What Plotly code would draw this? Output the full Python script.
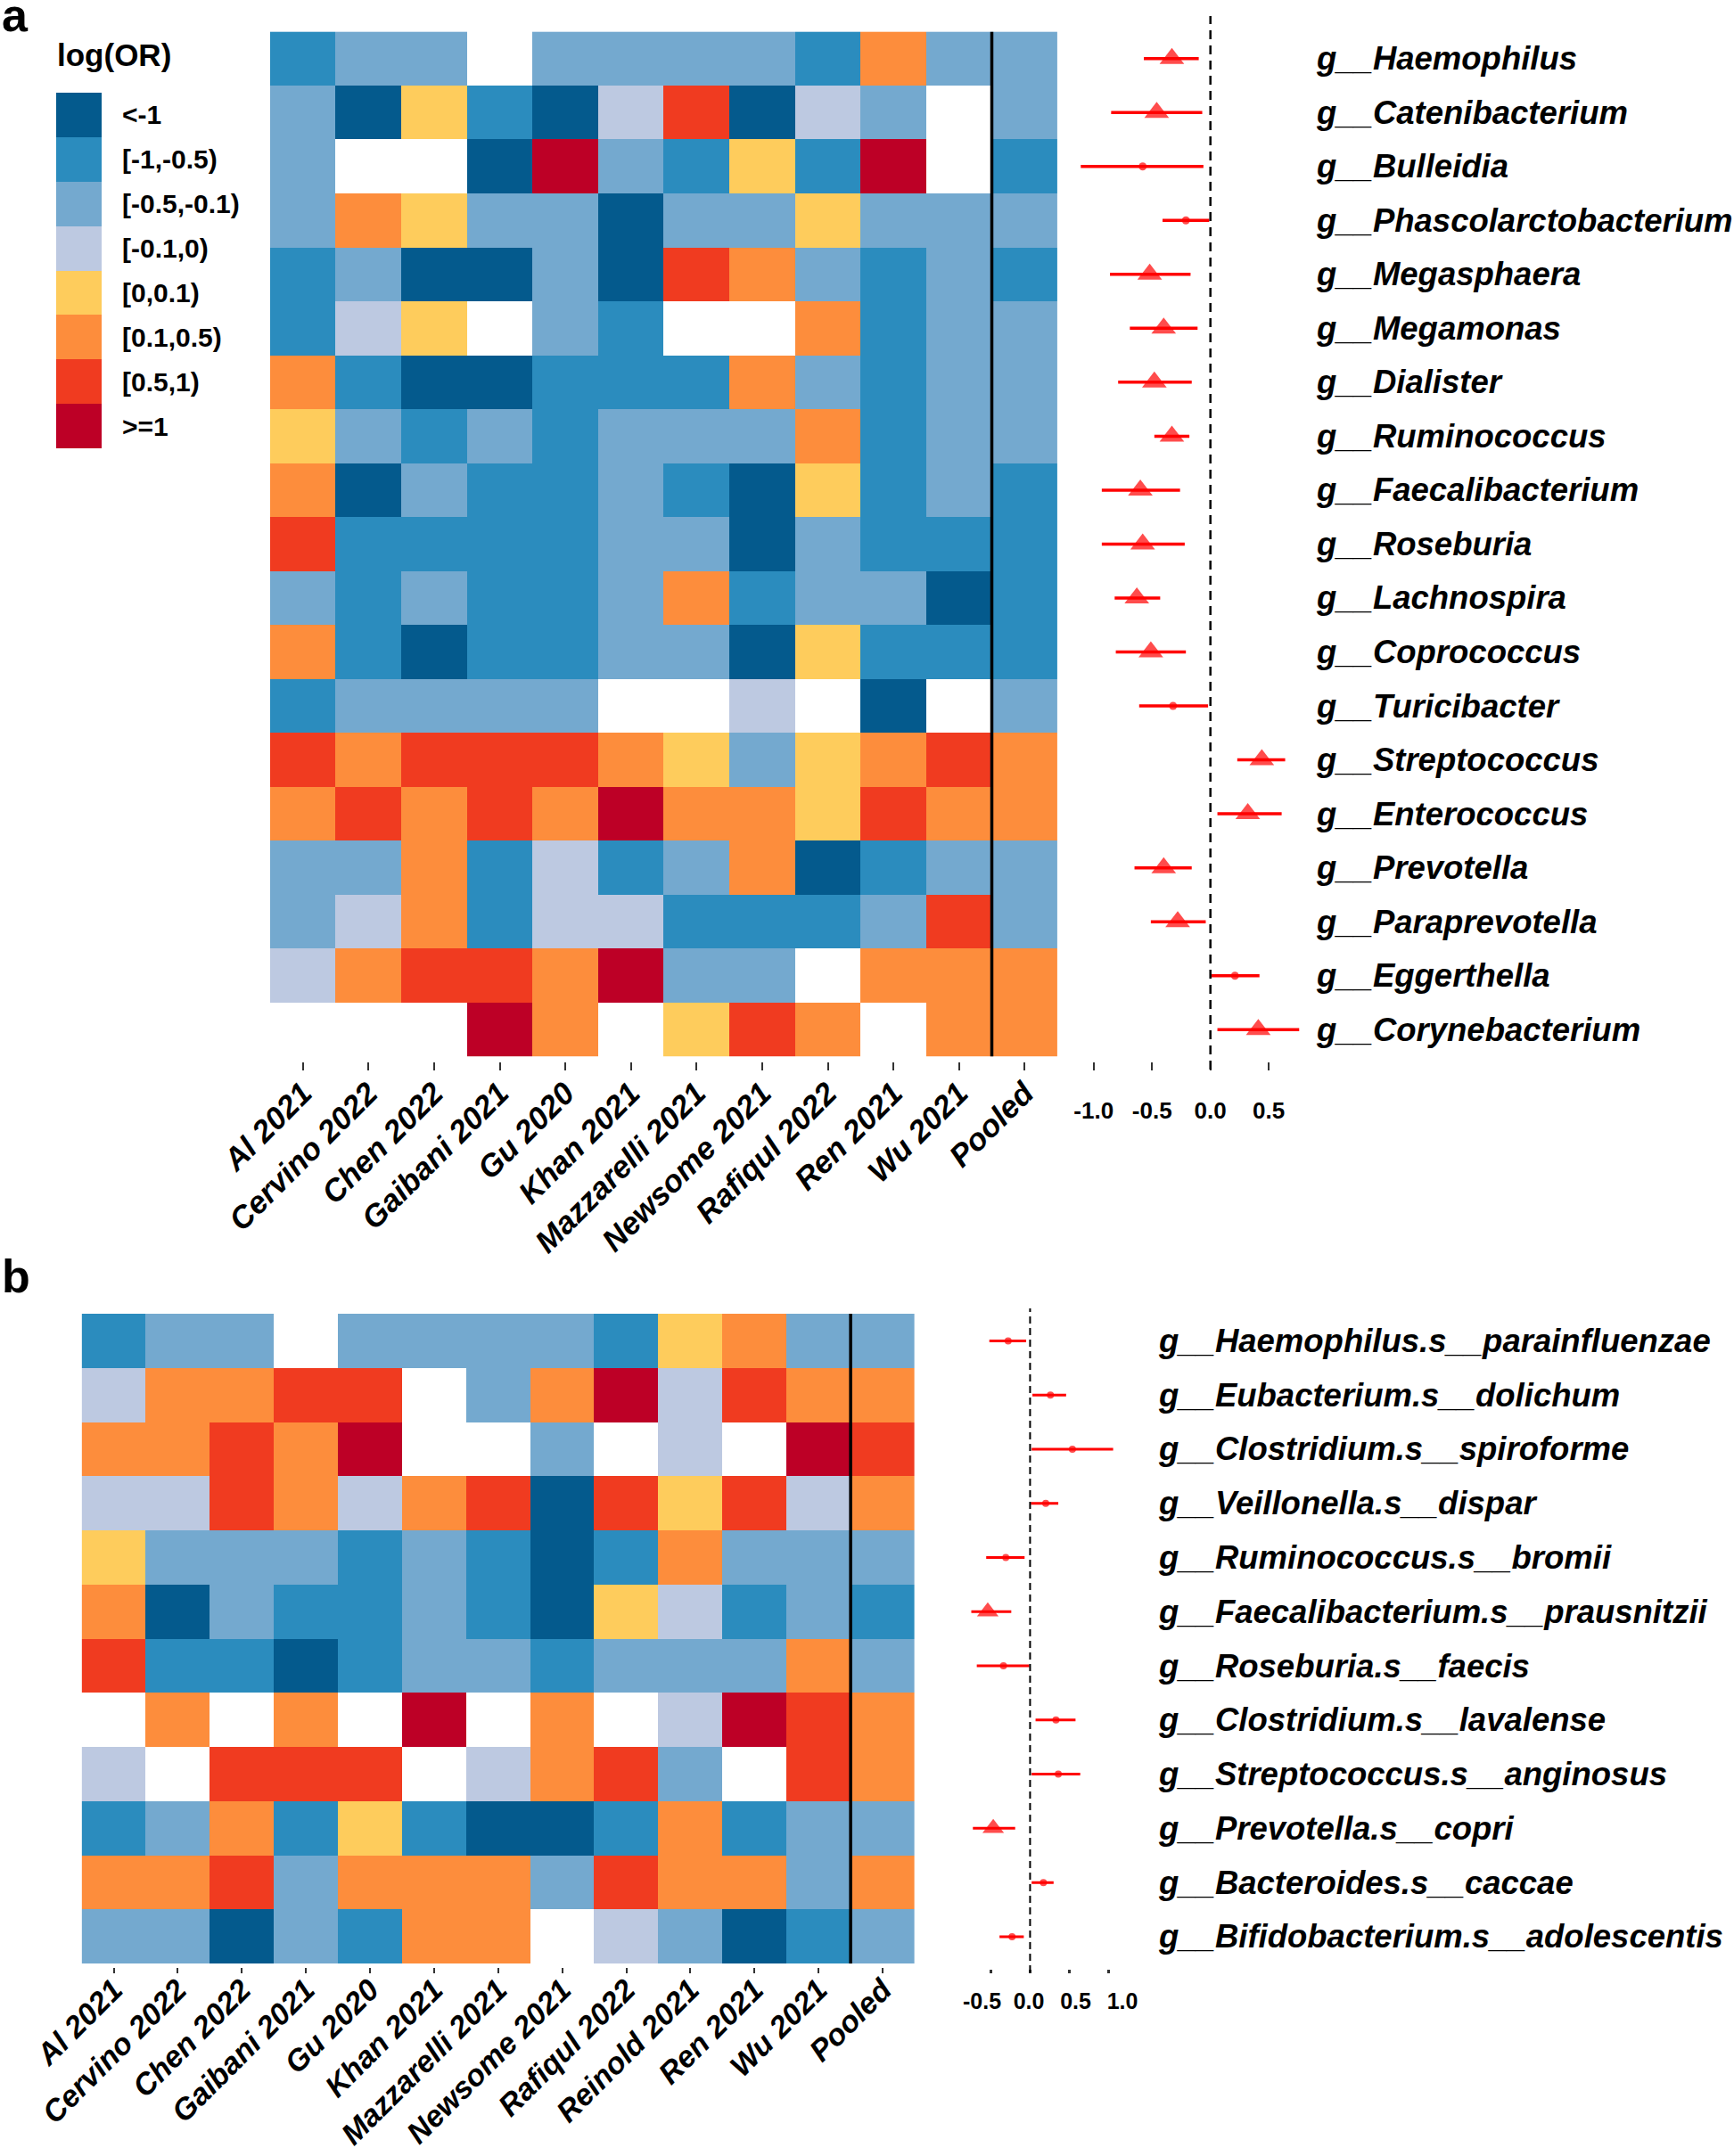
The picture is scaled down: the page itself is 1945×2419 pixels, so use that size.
import plotly.graph_objects as go

FONT = "Liberation Sans, Arial, Helvetica, sans-serif"
W, H = 1945, 2419

# ---------------- data ----------------
bin_labels = ["<-1", "[-1,-0.5)", "[-0.5,-0.1)", "[-0.1,0)", "[0,0.1)", "[0.1,0.5)", "[0.5,1)", ">=1"]
bin_colors = ["#045A8D", "#2B8CBE", "#74A9CF", "#BDC9E1", "#FECC5C", "#FD8D3C", "#F03B20", "#BD0026"]

studies_a = ["Al 2021", "Cervino 2022", "Chen 2022", "Gaibani 2021", "Gu 2020", "Khan 2021",
             "Mazzarelli 2021", "Newsome 2021", "Rafiqul 2022", "Ren 2021", "Wu 2021", "Pooled"]
genera_a = ["g__Haemophilus", "g__Catenibacterium", "g__Bulleidia", "g__Phascolarctobacterium",
            "g__Megasphaera", "g__Megamonas", "g__Dialister", "g__Ruminococcus", "g__Faecalibacterium",
            "g__Roseburia", "g__Lachnospira", "g__Coprococcus", "g__Turicibacter", "g__Streptococcus",
            "g__Enterococcus", "g__Prevotella", "g__Paraprevotella", "g__Eggerthella", "g__Corynebacterium"]
# log(OR) category index per cell (index into bin_labels), None = not available
cat_a = [
    [1, 2, 2, None, 2, 2, 2, 2, 1, 5, 2, 2],
    [2, 0, 4, 1, 0, 3, 6, 0, 3, 2, None, 2],
    [2, None, None, 0, 7, 2, 1, 4, 1, 7, None, 1],
    [2, 5, 4, 2, 2, 0, 2, 2, 4, 2, 2, 2],
    [1, 2, 0, 0, 2, 0, 6, 5, 2, 1, 2, 1],
    [1, 3, 4, None, 2, 1, None, None, 5, 1, 2, 2],
    [5, 1, 0, 0, 1, 1, 1, 5, 2, 1, 2, 2],
    [4, 2, 1, 2, 1, 2, 2, 2, 5, 1, 2, 2],
    [5, 0, 2, 1, 1, 2, 1, 0, 4, 1, 2, 1],
    [6, 1, 1, 1, 1, 2, 2, 0, 2, 1, 1, 1],
    [2, 1, 2, 1, 1, 2, 5, 1, 2, 2, 0, 1],
    [5, 1, 0, 1, 1, 2, 2, 0, 4, 1, 1, 1],
    [1, 2, 2, 2, 2, None, None, 3, None, 0, None, 2],
    [6, 5, 6, 6, 6, 5, 4, 2, 4, 5, 6, 5],
    [5, 6, 5, 6, 5, 7, 5, 5, 4, 6, 5, 5],
    [2, 2, 5, 1, 3, 1, 2, 5, 0, 1, 2, 2],
    [2, 3, 5, 1, 3, 3, 1, 1, 1, 2, 6, 2],
    [3, 5, 6, 6, 5, 7, 2, 2, None, 5, 5, 5],
    [None, None, None, 7, 5, None, 4, 6, 5, None, 5, 5],
]
pooled_a = [-0.33, -0.46, -0.58, -0.21, -0.52, -0.40, -0.48, -0.33, -0.60, -0.58,
            -0.63, -0.51, -0.32, 0.44, 0.32, -0.40, -0.28, 0.21, 0.41]
lower_a = [-0.57, -0.85, -1.11, -0.41, -0.86, -0.69, -0.79, -0.48, -0.93, -0.93,
           -0.82, -0.81, -0.61, 0.23, 0.06, -0.65, -0.51, 0.01, 0.06]
upper_a = [-0.10, -0.07, -0.06, -0.01, -0.17, -0.11, -0.16, -0.18, -0.26, -0.22,
           -0.43, -0.21, -0.02, 0.64, 0.61, -0.16, -0.04, 0.42, 0.76]
signif_a = [True, True, False, False, True, True, True, True, True, True,
            True, True, False, True, True, True, True, False, True]

studies_b = ["Al 2021", "Cervino 2022", "Chen 2022", "Gaibani 2021", "Gu 2020", "Khan 2021",
             "Mazzarelli 2021", "Newsome 2021", "Rafiqul 2022", "Reinold 2021", "Ren 2021", "Wu 2021", "Pooled"]
species_b = ["g__Haemophilus.s__parainfluenzae", "g__Eubacterium.s__dolichum", "g__Clostridium.s__spiroforme",
             "g__Veillonella.s__dispar", "g__Ruminococcus.s__bromii", "g__Faecalibacterium.s__prausnitzii",
             "g__Roseburia.s__faecis", "g__Clostridium.s__lavalense", "g__Streptococcus.s__anginosus",
             "g__Prevotella.s__copri", "g__Bacteroides.s__caccae", "g__Bifidobacterium.s__adolescentis"]
cat_b = [
    [1, 2, 2, None, 2, 2, 2, 2, 1, 4, 5, 2, 2],
    [3, 5, 5, 6, 6, None, 2, 5, 7, 3, 6, 5, 5],
    [5, 5, 6, 5, 7, None, None, 2, None, 3, None, 7, 6],
    [3, 3, 6, 5, 3, 5, 6, 0, 6, 4, 6, 3, 5],
    [4, 2, 2, 2, 1, 2, 1, 0, 1, 5, 2, 2, 2],
    [5, 0, 2, 1, 1, 2, 1, 0, 4, 3, 1, 2, 1],
    [6, 1, 1, 0, 1, 2, 2, 1, 2, 2, 2, 5, 2],
    [None, 5, None, 5, None, 7, None, 5, None, 3, 7, 6, 5],
    [3, None, 6, 6, 6, None, 3, 5, 6, 2, None, 6, 5],
    [1, 2, 5, 1, 4, 1, 0, 0, 1, 5, 1, 2, 2],
    [5, 5, 6, 2, 5, 5, 5, 2, 6, 5, 5, 2, 5],
    [2, 2, 0, 2, 1, 5, 5, None, 3, 2, 0, 1, 2],
]
pooled_b = [-0.28, 0.26, 0.54, 0.20, -0.31, -0.54, -0.34, 0.33, 0.36, -0.47, 0.17, -0.23]
lower_b = [-0.52, 0.03, 0.02, 0.01, -0.56, -0.84, -0.68, 0.07, 0.02, -0.73, 0.02, -0.39]
upper_b = [-0.05, 0.46, 1.06, 0.36, -0.07, -0.24, -0.01, 0.58, 0.64, -0.19, 0.30, -0.08]
signif_b = [False, False, False, False, False, True, False, False, False, True, False, False]

forest_ticks_a = [-1.0, -0.5, 0.0, 0.5]
forest_ticks_b = [-0.5, 0.0, 0.5, 1.0]


# ---------------- helpers ----------------
def fx(p):
    return p / W


def fy(p):
    return 1 - p / H


def discrete_scale(colors):
    n = len(colors)
    cs = []
    for i, c in enumerate(colors):
        cs.append([i / n, c])
        cs.append([(i + 1) / n, c])
    return cs


def esc(s):
    return s.replace("<", "&lt;").replace(">", "&gt;")


CS = discrete_scale(bin_colors)
RED = "#FF0000"

fig = go.Figure()

# legend (as a tiny heatmap)
fig.add_trace(go.Heatmap(
    z=[[i] for i in range(len(bin_labels))], x=[0], y=list(range(len(bin_labels))),
    colorscale=CS, zmin=-0.5, zmax=len(bin_colors) - 0.5, showscale=False,
    xaxis="x5", yaxis="y5", hoverinfo="skip"))

# heatmap a
fig.add_trace(go.Heatmap(
    z=cat_a, x=studies_a, y=genera_a, colorscale=CS, zmin=-0.5, zmax=7.5,
    showscale=False, xaxis="x", yaxis="y", hoverinfo="skip"))

# forest a
fig.add_trace(go.Scatter(
    x=pooled_a, y=genera_a, mode="markers", xaxis="x2", yaxis="y2",
    marker=dict(color=RED, symbol=["triangle-up" if s else "circle" for s in signif_a],
                size=[24 if s else 9 for s in signif_a], line=dict(width=0)),
    error_x=dict(type="data", symmetric=False,
                 array=[u - p for u, p in zip(upper_a, pooled_a)],
                 arrayminus=[p - l for p, l in zip(pooled_a, lower_a)],
                 color=RED, thickness=3.5, width=0),
    hoverinfo="skip"))

# heatmap b
fig.add_trace(go.Heatmap(
    z=cat_b, x=studies_b, y=species_b, colorscale=CS, zmin=-0.5, zmax=7.5,
    showscale=False, xaxis="x3", yaxis="y3", hoverinfo="skip"))

# carrier for the (spread-out) tick labels of forest b
fig.add_trace(go.Scatter(
    x=forest_ticks_b, y=[species_b[0]] * len(forest_ticks_b), mode="markers",
    xaxis="x6", yaxis="y4", marker=dict(opacity=0, size=1), hoverinfo="skip"))

# forest b
fig.add_trace(go.Scatter(
    x=pooled_b, y=species_b, mode="markers", xaxis="x4", yaxis="y4",
    marker=dict(color=RED, symbol=["triangle-up" if s else "circle" for s in signif_b],
                size=[21 if s else 8 for s in signif_b], line=dict(width=0)),
    error_x=dict(type="data", symmetric=False,
                 array=[u - p for u, p in zip(upper_b, pooled_b)],
                 arrayminus=[p - l for p, l in zip(pooled_b, lower_b)],
                 color=RED, thickness=3, width=0),
    hoverinfo="skip"))

BOLD = dict(family=FONT, color="black", weight="bold")
BI = dict(family=FONT, color="black", weight="bold", style="italic")
hidden = dict(visible=False, showgrid=False, zeroline=False, automargin=False)
common_x = dict(showgrid=False, zeroline=False, showline=False, automargin=False)

# geometry (paper fractions)
ya_dom = [fy(1185.5), fy(35.4)]
yb_dom = [fy(2203.3), fy(1474)]

layout = dict(
    width=W, height=H, margin=dict(l=0, r=0, t=0, b=0, autoexpand=False),
    paper_bgcolor="white", plot_bgcolor="rgba(0,0,0,0)", showlegend=False,
    xaxis=dict(domain=[fx(302.9), fx(1186.1)], anchor="free", position=fy(1191),
               range=[-0.5, len(studies_a) - 0.5], **common_x,
               ticks="outside", ticklen=9, tickwidth=2, tickcolor="#333",
               tickangle=-45, tickfont=dict(size=35, **BI), ticklabelstandoff=-9),
    yaxis=dict(domain=ya_dom, anchor="x", range=[len(genera_a) - 0.5, -0.5], **hidden),
    xaxis2=dict(domain=[fx(1200.5), fx(1462.5)], anchor="free", position=fy(1191),
                range=[-1.2, 0.8], **common_x,
                tickvals=forest_ticks_a, ticktext=["%.1f" % t for t in forest_ticks_a],
                ticks="outside", ticklen=9, tickwidth=2, tickcolor="#333",
                tickfont=dict(size=26, **BOLD), ticklabelstandoff=23),
    yaxis2=dict(domain=ya_dom, anchor="x2", range=[len(genera_a) - 0.5, -0.5], **hidden),
    xaxis3=dict(domain=[fx(91.6), fx(1026)], anchor="free", position=fy(2207),
                range=[-0.5, len(studies_b) - 0.5], **common_x,
                ticks="outside", ticklen=6, tickwidth=2, tickcolor="#333",
                tickangle=-45, tickfont=dict(size=34, **BI), ticklabelstandoff=-15),
    yaxis3=dict(domain=yb_dom, anchor="x3", range=[len(species_b) - 0.5, -0.5], **hidden),
    xaxis4=dict(domain=[fx(1089.5), fx(1256.5)], anchor="free", position=fy(2209),
                range=[-0.75, 1.15], **common_x,
                tickvals=forest_ticks_b, showticklabels=False,
                ticks="outside", ticklen=4, tickwidth=3, tickcolor="#333"),
    xaxis6=dict(domain=[fx(1075.3), fx(1274.8)], anchor="free", position=fy(2209),
                range=[-0.75, 1.15], **common_x,
                tickvals=forest_ticks_b, ticktext=["%.1f" % t for t in forest_ticks_b],
                ticks="", tickfont=dict(size=25, **BOLD), ticklabelstandoff=19),
    yaxis4=dict(domain=yb_dom, anchor="x4", range=[len(species_b) - 0.5, -0.5], **hidden),
    xaxis5=dict(domain=[fx(63), fx(114)], anchor="y5", range=[-0.5, 0.5], **hidden),
    yaxis5=dict(domain=[fy(503), fy(104)], anchor="x5", range=[len(bin_labels) - 0.5, -0.5],
                side="right", showgrid=False, zeroline=False, showline=False, ticks="", automargin=False,
                tickvals=list(range(len(bin_labels))), ticktext=[esc(b) for b in bin_labels],
                tickfont=dict(size=30, **BOLD), ticklabelstandoff=22),
)

shapes = [
    # separators before the pooled column
    dict(type="line", xref="x", yref="y", x0=len(studies_a) - 1.5, x1=len(studies_a) - 1.5,
         y0=-0.5, y1=len(genera_a) - 0.5, line=dict(color="black", width=3.5)),
    dict(type="line", xref="x3", yref="y3", x0=len(studies_b) - 1.5, x1=len(studies_b) - 1.5,
         y0=-0.5, y1=len(species_b) - 0.5, line=dict(color="black", width=3.5)),
    # zero reference lines
    dict(type="line", xref="x2", yref="paper", x0=0, x1=0, y0=fy(1200), y1=fy(18),
         line=dict(color="black", width=2.5, dash="10px,7px")),
    dict(type="line", xref="x4", yref="paper", x0=0, x1=0, y0=fy(2213), y1=fy(1468),
         line=dict(color="black", width=2, dash="8px,5px")),
]

annotations = [
    dict(text="a", xref="paper", yref="paper", x=fx(0), y=fy(17), xanchor="left", yanchor="middle",
         showarrow=False, font=dict(size=52, **BOLD)),
    dict(text="b", xref="paper", yref="paper", x=fx(0), y=fy(1432), xanchor="left", yanchor="middle",
         showarrow=False, font=dict(size=52, **BOLD)),
    dict(text="log(OR)", xref="paper", yref="paper", x=fx(62), y=fy(62), xanchor="left", yanchor="middle",
         showarrow=False, font=dict(size=35, **BOLD)),
]
for g in genera_a:
    annotations.append(dict(text=g, xref="paper", yref="y2", x=fx(1474), y=g, xanchor="left",
                            yanchor="middle", showarrow=False, font=dict(size=36.5, **BI)))
for s in species_b:
    annotations.append(dict(text=s, xref="paper", yref="y4", x=fx(1297), y=s, xanchor="left",
                            yanchor="middle", showarrow=False, font=dict(size=36.5, **BI)))

layout["shapes"] = shapes
layout["annotations"] = annotations
fig.update_layout(**layout)

fig.write_html("out.html", config={"displayModeBar": False},
               post_script="document.body.style.margin='0';")
